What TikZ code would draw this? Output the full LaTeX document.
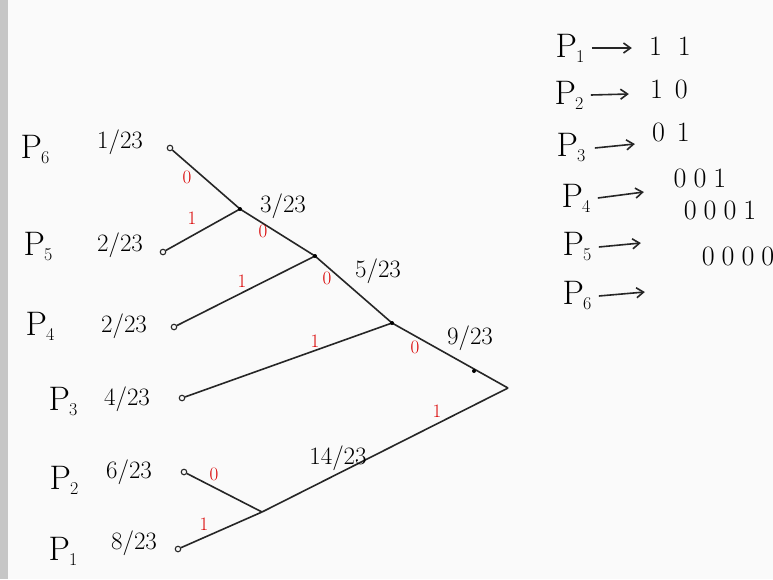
\documentclass[tikz,border=0pt]{standalone}
\usetikzlibrary{arrows.meta}
\newcommand{\Plab}[1]{P\kern-1pt\raisebox{-5pt}{\fontsize{18}{18}\selectfont #1}}
\newcommand{\gp}{\hspace{7pt}}
\begin{document}
\begin{tikzpicture}[x=1pt,y=-1pt,
  edge/.style={line width=1.6pt, black!85},
  leaf/.style={circle, draw=black!85, line width=1.1pt, inner sep=0pt, minimum size=5.5pt},
  plab/.style={font=\fontsize{34}{36}\selectfont, anchor=center},
  frac/.style={font=\fontsize{25}{27}\selectfont, anchor=center},
  bit/.style={font=\fontsize{19}{20}\selectfont, text=red!85!black, anchor=center},
  code/.style={font=\fontsize{28}{30}\selectfont, anchor=center},
  arr/.style={line width=1.6pt, black!85, -{Straight Barb[length=7pt,width=10pt]}}]
\fill[white!96!gray] (0,0) rectangle (773,579);
\fill[gray!45] (0,0) rectangle (8,579);
\useasboundingbox (0,0) rectangle (773,579);
% leaves
\node[leaf] (l6) at (170,148) {};
\node[leaf] (l5) at (163,252) {};
\node[leaf] (l4) at (174,327) {};
\node[leaf] (l3) at (182,398) {};
\node[leaf] (l2) at (184,472) {};
\node[leaf] (l1) at (178,549) {};
% internal
\coordinate (n1) at (240,209);
\coordinate (n2) at (315,256);
\coordinate (n3) at (392,323);
\coordinate (n4) at (262,512);
\coordinate (rt) at (508,388);
% edges
\draw[edge] (l6) -- (n1);
\draw[edge] (l5) -- (n1);
\draw[edge] (n1) -- (n2);
\draw[edge] (l4) -- (n2);
\draw[edge] (n2) -- (n3);
\draw[edge] (l3) -- (n3);
\draw[edge] (n3) -- (rt);
\draw[edge] (l2) -- (n4);
\draw[edge] (l1) -- (n4);
\draw[edge] (n4) -- (rt);
\fill (n1) circle (2pt);
\fill (n2) circle (2pt);
\fill (n3) circle (2pt);
\fill (474,371) circle (2pt);
% bits
\node[bit] (b1) at (187,177) {0};
\node[bit] (b2) at (192,218) {1};
\node[bit] (b3) at (263,231) {0};
\node[bit] (b4) at (242,281) {1};
\node[bit] (b5) at (327,278) {0};
\node[bit] (b6) at (315,341) {1};
\node[bit] (b7) at (415,347) {0};
\node[bit] (b8) at (437,411) {1};
\node[bit] (b9) at (214,474) {0};
\node[bit] (b10) at (204,524) {1};
% weights
\node[frac] (w1) at (283,206) {3/23};
\node[frac] (w2) at (378,271) {5/23};
\node[frac] (w3) at (470,338) {9/23};
\node[frac] (w4) at (338,458) {14/23};
% left labels
\node[plab] (p6) at (35,150) {\Plab{6}};
\node[frac] (f6) at (120,142) {1/23};
\node[plab] (p5) at (38,247) {\Plab{5}};
\node[frac] (f5) at (120,245) {2/23};
\node[plab] (p4) at (40,326) {\Plab{4}};
\node[frac] (f4) at (124,326) {2/23};
\node[plab] (p3) at (63,402) {\Plab{3}};
\node[frac] (f3) at (127,399) {4/23};
\node[plab] (p2) at (64,480) {\Plab{2}};
\node[frac] (f2) at (129,472) {6/23};
\node[plab] (p1) at (63,551) {\Plab{1}};
\node[frac] (f1) at (134,543) {8/23};
% code list
\node[plab] (q1) at (570,48) {\Plab{1}};
\node[code] (c1) at (670,46) {1\hspace{16pt}1};
\node[plab] (q2) at (569,95) {\Plab{2}};
\node[code] (c2) at (669,89) {1\hspace{12pt}0};
\node[plab] (q3) at (571,148) {\Plab{3}};
\node[code] (c3) at (671,132) {0\hspace{12pt}1};
\node[plab] (q4) at (576,198) {\Plab{4}};
\node[code] (c4) at (700,178) {0\gp0\gp1};
\node[plab] (q5) at (577,247) {\Plab{5}};
\node[code] (c5) at (720,210) {0\gp0\gp0\gp1};
\node[plab] (q6) at (577,296) {\Plab{6}};
\node[code] (c6) at (738,256) {0\gp0\gp0\gp0};
\draw[arr] ([xshift=4pt]q1.east) -- ++(40,0);
\draw[arr] ([xshift=4pt]q2.east) -- ++(38,-1);
\draw[arr] ([xshift=6pt]q3.east) -- ++(40,-4);
\draw[arr] ([xshift=4pt]q4.east) -- ++(46,-6);
\draw[arr] ([xshift=4pt]q5.east) -- ++(42,-4);
\draw[arr] ([xshift=4pt]q6.east) -- ++(46,-4);
\end{tikzpicture}
\end{document}
